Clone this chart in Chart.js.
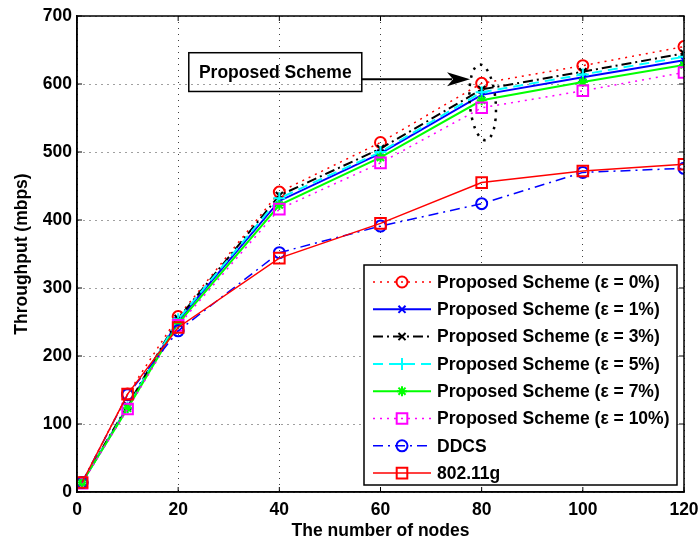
<!DOCTYPE html>
<html>
<head>
<meta charset="utf-8">
<script src="https://cdn.jsdelivr.net/npm/chart.js@4"></script>
<style>
body { margin: 0; background: #fff; }
#wrap { width: 699px; height: 543px; position: relative; }
</style>
</head>
<body>
<div id="wrap"><canvas id="grafico"></canvas></div>
<script>
// number of nodes (x axis)
var nodes = [1, 10, 20, 40, 60, 80, 100, 120];

// throughput (mbps) for each scheme
var eps0  = [14, 144, 258, 441, 514, 601, 627, 655];
var eps1  = [14, 125, 252, 428, 498, 584, 610, 635];
var eps3  = [14, 127, 255, 436, 505, 592, 618, 645];
var eps5  = [14, 124, 254, 432, 500, 588, 614, 640];
var eps7  = [14, 123, 248, 422, 492, 576, 603, 628];
var eps10 = [13, 122, 245, 416, 484, 565, 590, 617];
var ddcs  = [14, 143, 237, 352, 391, 424, 470, 476];
var g80211 = [14, 144, 242, 344, 395, 455, 472, 482];

var seriesNames = [
    'Proposed Scheme (\u03b5 = 0%)',
    'Proposed Scheme (\u03b5 = 1%)',
    'Proposed Scheme (\u03b5 = 3%)',
    'Proposed Scheme (\u03b5 = 5%)',
    'Proposed Scheme (\u03b5 = 7%)',
    'Proposed Scheme (\u03b5 = 10%)',
    'DDCS',
    '802.11g'
];
var seriesValues = [eps0, eps1, eps3, eps5, eps7, eps10, ddcs, g80211];

// axis ticks
var xTicks = [0, 20, 40, 60, 80, 100, 120];
var yTicks = [0, 100, 200, 300, 400, 500, 600, 700];

var FONT = '"Liberation Sans", Arial, sans-serif';

// line / marker look for each series (matlab style)
var looks = [
    {color: '#ff0000', dash: [2, 5], width: 1.5, marker: 'circle', r: 5.5},
    {color: '#0000ff', dash: [], width: 2, marker: 'crossRot', r: 5},
    {color: '#000000', dash: [10, 4, 2, 4], width: 2, marker: 'crossRot', r: 5},
    {color: '#00ffff', dash: [10, 6], width: 2, marker: 'cross', r: 6},
    {color: '#00ff00', dash: [], width: 2, marker: 'star', r: 5},
    {color: '#ff00ff', dash: [2, 5], width: 1.5, marker: 'rect', r: 7.5},
    {color: '#0000ff', dash: [10, 5, 2, 5], width: 1.5, marker: 'circle', r: 5.5},
    {color: '#ff0000', dash: [], width: 1.5, marker: 'rect', r: 7.5}
];

function pts(vals) {
    return vals.map(function (v, i) { return {x: nodes[i], y: v}; });
}

var datasets = seriesValues.map(function (vals, i) {
    var lk = looks[i];
    return {
        label: seriesNames[i],
        data: pts(vals),
        borderColor: lk.color,
        borderWidth: lk.width,
        borderDash: lk.dash,
        backgroundColor: 'rgba(0,0,0,0)',
        pointStyle: lk.marker,
        pointRadius: lk.r,
        pointBorderColor: lk.color,
        pointBackgroundColor: 'rgba(0,0,0,0)',
        pointBorderWidth: 2,
        tension: 0,
        order: -i
    };
});

// small marker drawer for the legend
function marker(ctx, style, x, y, r) {
    ctx.beginPath();
    if (style === 'circle') {
        ctx.arc(x, y, r, 0, Math.PI * 2);
    } else if (style === 'rect') {
        var s = r * Math.SQRT1_2;
        ctx.rect(x - s, y - s, 2 * s, 2 * s);
    } else {
        var d = r * Math.SQRT1_2;
        if (style === 'cross' || style === 'star') {
            ctx.moveTo(x - r, y); ctx.lineTo(x + r, y);
            ctx.moveTo(x, y - r); ctx.lineTo(x, y + r);
        }
        if (style === 'crossRot' || style === 'star') {
            ctx.moveTo(x - d, y - d); ctx.lineTo(x + d, y + d);
            ctx.moveTo(x + d, y - d); ctx.lineTo(x - d, y + d);
        }
    }
    ctx.stroke();
}

var extras = {
    id: 'extras',
    afterDatasetsDraw: function (chart) {
        var ctx = chart.ctx;
        var a = chart.chartArea;
        var xs = chart.scales.x, ys = chart.scales.y;
        ctx.save();

        // box around the plot + inward ticks
        ctx.strokeStyle = '#000';
        ctx.lineWidth = 1.5;
        ctx.setLineDash([]);
        ctx.strokeRect(a.left, a.top, a.right - a.left, a.bottom - a.top);
        ctx.lineWidth = 1;
        ctx.beginPath();
        xTicks.forEach(function (t) {
            var px = xs.getPixelForValue(t);
            ctx.moveTo(px, a.bottom); ctx.lineTo(px, a.bottom - 5);
            ctx.moveTo(px, a.top); ctx.lineTo(px, a.top + 5);
        });
        yTicks.forEach(function (t) {
            var py = ys.getPixelForValue(t);
            ctx.moveTo(a.left, py); ctx.lineTo(a.left + 5, py);
            ctx.moveTo(a.right, py); ctx.lineTo(a.right - 5, py);
        });
        ctx.stroke();

        // "Proposed Scheme" annotation
        var bx1 = xs.getPixelForValue(22.1), bx2 = xs.getPixelForValue(56.3);
        var by1 = ys.getPixelForValue(646), by2 = ys.getPixelForValue(589);
        ctx.lineWidth = 1.5;
        ctx.strokeRect(bx1, by1, bx2 - bx1, by2 - by1);
        ctx.fillStyle = '#000';
        ctx.font = 'bold 17.5px ' + FONT;
        ctx.textAlign = 'center';
        ctx.textBaseline = 'middle';
        ctx.fillText('Proposed Scheme', (bx1 + bx2) / 2, (by1 + by2) / 2 + 1);

        var ay = ys.getPixelForValue(607);
        var ax2 = xs.getPixelForValue(77.7);
        ctx.lineWidth = 2;
        ctx.beginPath();
        ctx.moveTo(bx2, ay); ctx.lineTo(ax2 - 18, ay);
        ctx.stroke();
        ctx.beginPath();
        ctx.moveTo(ax2, ay);
        ctx.lineTo(ax2 - 23, ay - 7);
        ctx.lineTo(ax2 - 17, ay);
        ctx.lineTo(ax2 - 23, ay + 7);
        ctx.closePath();
        ctx.fill();

        // dotted ellipse around the x = 80 points
        var ex = xs.getPixelForValue(80.2), ey = ys.getPixelForValue(573);
        ctx.lineWidth = 2.5;
        ctx.setLineDash([2.5, 6]);
        ctx.beginPath();
        ctx.ellipse(ex, ey, 13, 38, -0.08, 0, Math.PI * 2);
        ctx.stroke();
        ctx.setLineDash([]);

        // legend inside plot
        var lx = 364, ly = 265, lw = 313, lh = 220;
        ctx.fillStyle = '#fff';
        ctx.fillRect(lx, ly, lw, lh);
        ctx.lineWidth = 1.5;
        ctx.strokeStyle = '#000';
        ctx.strokeRect(lx, ly, lw, lh);
        ctx.font = 'bold 17.5px ' + FONT;
        ctx.textAlign = 'left';
        ctx.textBaseline = 'middle';
        seriesNames.forEach(function (name, i) {
            var lk = looks[i];
            var ry = ly + 17 + i * 27.3;
            ctx.strokeStyle = lk.color;
            ctx.lineWidth = lk.width;
            ctx.setLineDash(lk.dash);
            ctx.beginPath();
            ctx.moveTo(lx + 9, ry); ctx.lineTo(lx + 67, ry);
            ctx.stroke();
            ctx.setLineDash([]);
            ctx.lineWidth = 2;
            marker(ctx, lk.marker, lx + 38, ry, lk.r);
            ctx.fillStyle = '#000';
            ctx.fillText(name, lx + 73, ry + 1);
        });
        ctx.restore();
    }
};

var ctx = document.querySelector('#grafico').getContext('2d');
var chart = new Chart(ctx, {
    type: 'line',
    data: {datasets: datasets},
    options: {
        responsive: true,
        maintainAspectRatio: false,
        animation: false,
        layout: {padding: {top: 16, right: 15, left: 0, bottom: 0}},
        plugins: {legend: {display: false}, tooltip: {enabled: false}},
        scales: {
            x: {
                type: 'linear',
                min: 0, max: 120,
                afterBuildTicks: function (s) { s.ticks = xTicks.map(function (v) { return {value: v}; }); },
                afterFit: function (s) { s.height = 51; s.paddingLeft = 0; s.paddingRight = 0; },
                ticks: {color: '#000', font: {family: FONT, size: 17.5, weight: 'bold'}, padding: 8, maxRotation: 0},
                grid: {color: 'rgba(0,0,0,0.75)', lineWidth: 1, drawTicks: false},
                border: {color: '#000', width: 1.5, dash: [1, 5]},
                title: {display: true, text: 'The number of nodes', color: '#000',
                        font: {family: FONT, size: 17.5, weight: 'bold'}, padding: {top: 0, bottom: 1}}
            },
            y: {
                min: 0, max: 700,
                afterBuildTicks: function (s) { s.ticks = yTicks.map(function (v) { return {value: v}; }); },
                afterFit: function (s) { s.width = 77; s.paddingTop = 0; s.paddingBottom = 0; },
                ticks: {color: '#000', font: {family: FONT, size: 17.5, weight: 'bold'}, padding: 5},
                grid: {color: 'rgba(0,0,0,0.75)', lineWidth: 1, drawTicks: false},
                border: {color: '#000', width: 1.5, dash: [1, 5]},
                title: {display: true, text: 'Throughput (mbps)', color: '#000',
                        font: {family: FONT, size: 17.5, weight: 'bold'}, padding: {top: 12, bottom: 0}}
            }
        }
    },
    plugins: [extras]
});
</script>
</body>
</html>
